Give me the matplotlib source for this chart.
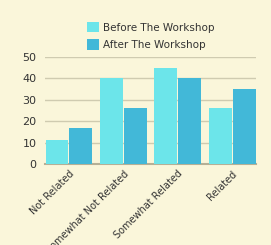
import matplotlib
matplotlib.use("Agg")
import matplotlib.pyplot as plt
import numpy as np

categories = ["Not Related", "Somewhat Not Related", "Somewhat Related", "Related"]
before = [11, 40, 45, 26]
after = [17, 26, 40, 35]
series_names = ["Before The Workshop", "After The Workshop"]
yticks = [0, 10, 20, 30, 40, 50]

bg = "#faf6da"
fig = plt.figure(figsize=(2.71, 2.45), dpi=100, facecolor=bg)
ax = fig.add_axes([0.166, 0.331, 0.779, 0.436], facecolor=bg)

x = np.arange(len(categories))
w = 0.42
ax.bar(x - 0.22, before, w, color="#6ce5ea", label=series_names[0], zorder=3)
ax.bar(x + 0.22, after, w, color="#42b8d8", label=series_names[1], zorder=3)

ax.set_xlim(-0.44, 3.44)
ax.set_ylim(0, 50)
ax.set_yticks(yticks)
ax.yaxis.grid(True, color="#cfcbb0", linewidth=1, zorder=0)
for s in ["top", "right", "left"]:
    ax.spines[s].set_visible(False)
ax.spines["bottom"].set_color("#b5b096")
ax.spines["bottom"].set_linewidth(1.5)
ax.tick_params(axis="both", length=0, colors="#333333", labelsize=8)
ax.tick_params(axis="y", pad=6)
ax.set_xticks(x)
ax.set_xticklabels(categories, rotation=45, ha="right", rotation_mode="anchor", fontsize=7)

leg = ax.legend(loc="lower center", bbox_to_anchor=(0.5, 1.02), ncol=1, frameon=False,
                fontsize=7.5, handlelength=1.2, handleheight=1.2, handletextpad=0.3,
                labelspacing=0.6, borderpad=0)
for t in leg.get_texts():
    t.set_color("#333333")

fig.savefig("out.png", dpi=100, facecolor=bg)
